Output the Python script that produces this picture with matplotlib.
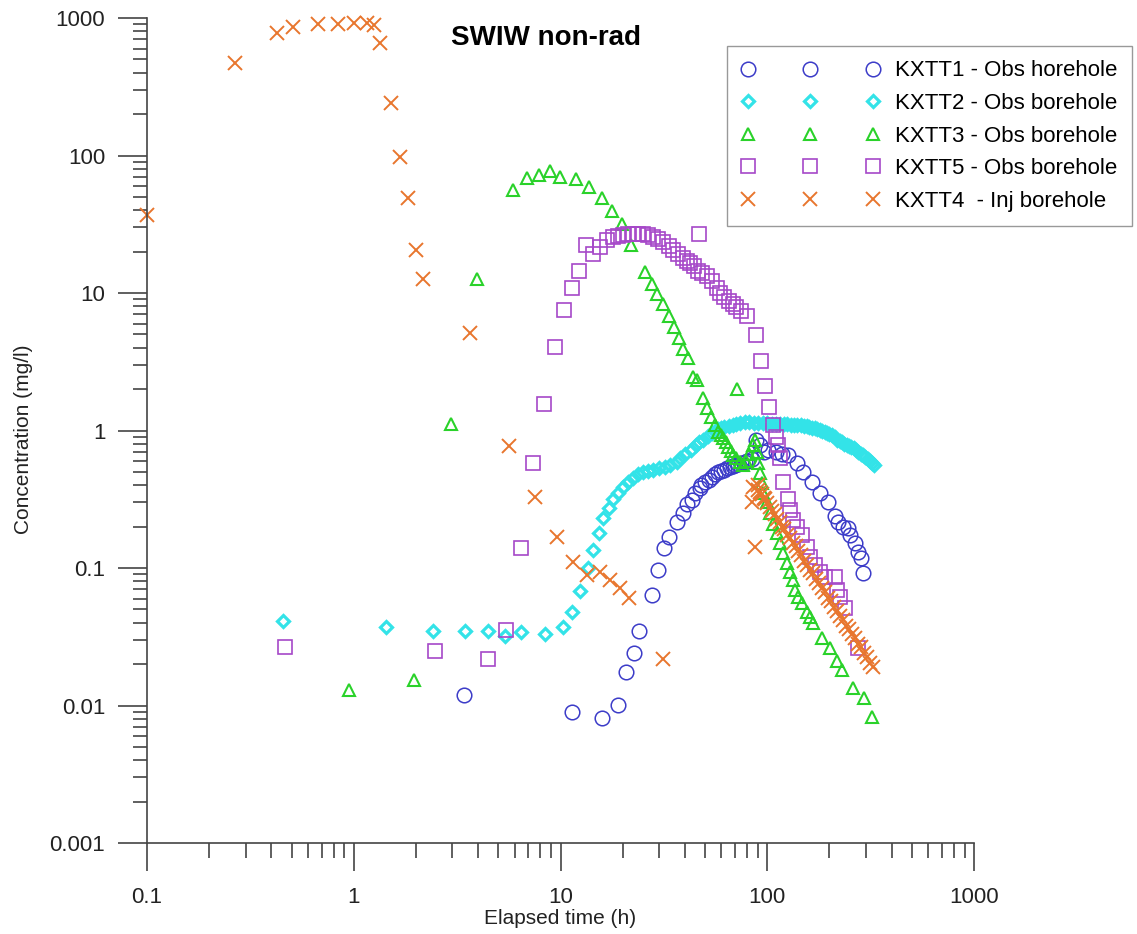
import numpy as np
import matplotlib
matplotlib.use("Agg")
import matplotlib.pyplot as plt
from matplotlib.ticker import FixedLocator, NullFormatter

plt.rcParams['font.family'] = ['Liberation Sans', 'DejaVu Sans']

# (elapsed time h, concentration mg/l)
kxtt1 = [(3.4, 0.012), (11.4, 0.009), (15.9, 0.0081), (19.0, 0.0101), (20.7, 0.0175),
         (22.7, 0.024), (24.0, 0.0348), (27.7, 0.064), (29.6, 0.097), (31.7, 0.14),
         (33.5, 0.168), (36.6, 0.216), (39.1, 0.25), (40.9, 0.29), (43.3, 0.31),
         (44.8, 0.35), (47.3, 0.38), (48, 0.40), (50, 0.42), (52, 0.44), (54, 0.46),
         (56, 0.48), (58, 0.50), (60, 0.51), (62, 0.52), (64, 0.53), (66, 0.54),
         (68, 0.55), (70, 0.56), (72, 0.57), (75, 0.58), (78, 0.59), (80, 0.60),
         (84, 0.62), (88, 0.85), (92, 0.78), (96, 0.70), (101, 0.72), (110, 0.70),
         (118, 0.68), (126, 0.66), (139, 0.58), (149, 0.50), (164, 0.42), (180, 0.35),
         (197, 0.30), (213, 0.24), (220, 0.216), (232, 0.199), (246, 0.196),
         (251, 0.174), (265, 0.152), (275, 0.131), (284, 0.118), (290, 0.092)]

kxtt2 = [(0.455, 0.041), (1.43, 0.037), (2.42, 0.035), (3.45, 0.035), (4.46, 0.035),
         (5.39, 0.032), (6.44, 0.034), (8.41, 0.033), (10.3, 0.037), (11.4, 0.048),
         (12.4, 0.068), (13.6, 0.10), (14.4, 0.135), (15.4, 0.18), (16.1, 0.23),
         (17.2, 0.273), (17.9, 0.318), (19.0, 0.35), (20.0, 0.39), (21.2, 0.42),
         (22.4, 0.45), (23.7, 0.48), (25, 0.50), (26.5, 0.51), (28, 0.52), (30, 0.53),
         (32, 0.54), (34, 0.56), (36.6, 0.59), (37.8, 0.63), (40, 0.68), (42.8, 0.72),
         (45, 0.78), (47, 0.82), (49, 0.86), (51.5, 0.91), (54, 0.96), (56, 1.0),
         (58, 1.02), (60, 1.04), (62, 1.06), (65, 1.08), (68, 1.10), (71, 1.12),
         (74, 1.14), (78, 1.15), (82, 1.15), (86, 1.14), (90, 1.14), (95, 1.13),
         (100, 1.13), (105, 1.12), (110, 1.12), (115, 1.12), (120, 1.11), (125, 1.11),
         (130, 1.10), (135, 1.10), (140, 1.09), (145, 1.09), (150, 1.08), (155, 1.07),
         (160, 1.06), (165, 1.05), (170, 1.04), (175, 1.02), (180, 1.01), (185, 0.99),
         (190, 0.97), (195, 0.96), (200, 0.95), (206, 0.92), (212, 0.89), (218, 0.86),
         (224, 0.84), (230, 0.82), (236, 0.80), (242, 0.79), (248, 0.77), (255, 0.76),
         (262, 0.74), (269, 0.72), (276, 0.70), (283, 0.68), (290, 0.66), (298, 0.64),
         (306, 0.62), (314, 0.60), (322, 0.58), (330, 0.56)]

kxtt3 = [(0.95, 0.013), (1.95, 0.0152), (2.95, 1.11), (3.94, 12.6), (5.89, 56),
         (6.89, 68.6), (7.87, 72), (8.9, 77), (9.95, 70), (11.9, 67.5), (13.7, 59),
         (15.9, 49), (17.7, 39.5), (19.8, 31.8), (21.9, 22.3), (25.6, 14.2), (27.7, 11.6),
         (29.3, 9.8), (31.3, 8.3), (33.5, 6.8), (35.4, 5.66), (37.4, 4.7), (39.1, 3.92),
         (41.4, 3.37), (43.7, 2.45), (45.7, 2.33), (48.9, 1.72), (51.1, 1.46),
         (53.5, 1.25), (55.8, 1.1), (57.8, 0.975), (59.5, 0.93), (61.1, 0.88),
         (63, 0.82), (64.6, 0.76), (66.5, 0.71), (68.3, 0.66), (70.5, 0.63), (71.4, 2.0),
         (73.8, 0.59), (76, 0.56), (79, 0.60), (82, 0.68), (85, 0.78), (87, 0.86),
         (89, 0.70), (90, 0.58), (92, 0.49), (94.5, 0.415), (95.3, 0.35), (100, 0.30),
         (103, 0.25), (107, 0.21), (111, 0.18), (115, 0.152), (119, 0.129), (125, 0.109),
         (129, 0.094), (133, 0.082), (136, 0.069), (141, 0.0615), (147, 0.0556),
         (155, 0.048), (161, 0.044), (166, 0.040), (184, 0.031), (201, 0.026),
         (217, 0.021), (230, 0.018), (260, 0.0134), (294, 0.0113), (321, 0.0082)]

kxtt5 = [(0.465, 0.0266), (2.47, 0.025), (4.46, 0.0218), (5.45, 0.0354), (6.44, 0.14),
         (7.36, 0.58), (8.32, 1.56), (9.4, 4.05), (10.4, 7.5), (11.4, 10.9), (12.3, 14.5),
         (13.3, 22.3), (14.4, 19.2), (15.5, 21.6), (16.8, 24.3), (17.9, 25.5), (19.0, 26),
         (20, 26.5), (21.2, 26.8), (22.4, 27), (23.7, 27), (25, 26.8), (26.5, 26.3),
         (28, 25.6), (29.6, 24.5), (31.3, 23.5), (33.5, 22), (35, 20.5), (37, 19.2),
         (39, 18), (41, 17), (42.3, 16.5), (44, 15.6), (46, 14.5), (46.8, 26.8),
         (48.5, 14), (51, 13.3), (54, 12.2), (57, 10.8), (59, 10), (62, 9.3), (65, 8.8),
         (68, 8.3), (71, 7.9), (75, 7.4), (80, 6.8), (88.3, 4.95), (93.3, 3.2),
         (97.5, 2.1), (102, 1.48), (107, 1.1), (110, 0.9), (113, 0.78), (115, 0.63),
         (119, 0.42), (126, 0.32), (129, 0.264), (133, 0.223), (139, 0.199), (147, 0.174),
         (156, 0.142), (161, 0.12), (170, 0.105), (180, 0.0935), (190, 0.086),
         (213, 0.086), (217, 0.069), (225, 0.0615), (238, 0.051), (275, 0.026)]

kxtt4 = [(0.1, 37), (0.266, 470), (0.426, 778), (0.508, 861), (0.671, 905), (0.839, 905),
         (1.0, 920), (1.16, 920), (1.25, 890), (1.34, 658), (1.51, 241), (1.67, 97.5),
         (1.83, 49), (2.0, 20.5), (2.16, 12.6), (3.65, 5.1), (5.64, 0.77), (7.5, 0.33),
         (9.6, 0.168), (11.5, 0.111), (13.4, 0.089), (15.5, 0.0935), (17.3, 0.082),
         (19.4, 0.0716), (21.4, 0.0605), (31.3, 0.0218), (84.4, 0.30), (85.3, 0.388),
         (87, 0.142), (90.2, 0.37), (90, 0.40), (92, 0.36), (94, 0.345), (96, 0.325),
         (98, 0.315), (100, 0.295), (103, 0.28), (106, 0.258), (109, 0.245), (112, 0.226),
         (115, 0.217), (118, 0.20), (121, 0.192), (125, 0.175), (129, 0.166),
         (133, 0.151), (137, 0.145), (141, 0.132), (146, 0.125), (151, 0.112),
         (156, 0.106), (161, 0.097), (166, 0.092), (172, 0.083), (178, 0.078),
         (184, 0.071), (190, 0.067), (196, 0.061), (203, 0.058), (210, 0.052),
         (217, 0.049), (224, 0.045), (232, 0.042), (240, 0.038), (248, 0.036),
         (256, 0.033), (265, 0.031), (274, 0.028), (283, 0.0265), (293, 0.024),
         (303, 0.0226), (314, 0.0205), (325, 0.0192)]

labels = ["KXTT1 - Obs horehole", "KXTT2 - Obs borehole", "KXTT3 - Obs borehole",
          "KXTT5 - Obs borehole", "KXTT4  - Inj borehole"]

x_ticks = [0.1, 1, 10, 100, 1000]
x_tick_labels = ["0.1", "1", "10", "100", "1000"]
y_ticks = [0.001, 0.01, 0.1, 1, 10, 100, 1000]
y_tick_labels = ["0.001", "0.01", "0.1", "1", "10", "100", "1000"]

W, H = 1137, 934
fig = plt.figure(figsize=(W / 100, H / 100), dpi=100)
ax = fig.add_axes([147 / W, 1 - 843 / H, (974 - 147) / W, (843 - 18) / H])

styles = [
    (kxtt1, dict(marker='o', ms=10.5, mec='#3c3cc8', mew=1.1)),
    (kxtt2, dict(marker='D', ms=6.5, mec='#33e3e8', mew=2.3)),
    (kxtt3, dict(marker='^', ms=8.5, mec='#2ad22a', mew=1.5)),
    (kxtt5, dict(marker='s', ms=10, mec='#a648c8', mew=1.2)),
    (kxtt4, dict(marker='x', ms=10, mec='#e8762e', mew=1.4)),
]

for (data, st), lab in zip(styles, labels):
    t = [p[0] for p in data]
    c = [p[1] for p in data]
    ax.plot(t, c, linestyle='none', mfc='none', label=lab, clip_on=False, **st)

ax.set_xscale('log')
ax.set_yscale('log')
ax.set_xlim(0.1, 1000)
ax.set_ylim(0.001, 1000)

ax.xaxis.set_major_locator(FixedLocator(x_ticks))
ax.set_xticklabels(x_tick_labels)
ax.yaxis.set_major_locator(FixedLocator(y_ticks))
ax.set_yticklabels(y_tick_labels)
minors_x = [d * s for d in [0.1, 1, 10, 100] for s in range(2, 10)]
minors_y = [d * s for d in [0.001, 0.01, 0.1, 1, 10, 100] for s in range(2, 10)]
ax.xaxis.set_minor_locator(FixedLocator(minors_x))
ax.yaxis.set_minor_locator(FixedLocator(minors_y))
ax.xaxis.set_minor_formatter(NullFormatter())
ax.yaxis.set_minor_formatter(NullFormatter())

for s in ['top', 'right']:
    ax.spines[s].set_visible(False)
for s in ['left', 'bottom']:
    ax.spines[s].set_color('#444444')
    ax.spines[s].set_linewidth(1.2)

ax.tick_params(which='both', direction='out', color='#444444', width=1.2,
               labelsize=16, labelcolor='#222222')
ax.tick_params(axis='x', which='major', length=20, pad=12)
ax.tick_params(axis='x', which='minor', length=11)
ax.tick_params(axis='y', which='major', length=21, pad=9)
ax.tick_params(axis='y', which='minor', length=10)

ax.set_xlabel("Elapsed time (h)", fontsize=15, color='#222222')
ax.set_ylabel("Concentration (mg/l)", fontsize=15, color='#222222')
ax.xaxis.set_label_coords(0.5, -0.080)
ax.yaxis.set_label_coords(-0.138, 0.49)

fig.text(546 / W, 1 - 38 / H, "SWIW non-rad", ha='center', va='center',
         fontsize=20, fontweight='bold')

leg = ax.legend(loc='upper left', bbox_to_anchor=(727 / W, 1 - 46 / H),
                bbox_transform=fig.transFigure, numpoints=3, handlelength=6.2,
                handletextpad=0.7, borderpad=0.65, labelspacing=0.52,
                fontsize=16, fancybox=False, framealpha=1, borderaxespad=0)
leg.get_frame().set_edgecolor('#999999')
leg.get_frame().set_linewidth(1.0)

fig.savefig("out.png", dpi=100)
